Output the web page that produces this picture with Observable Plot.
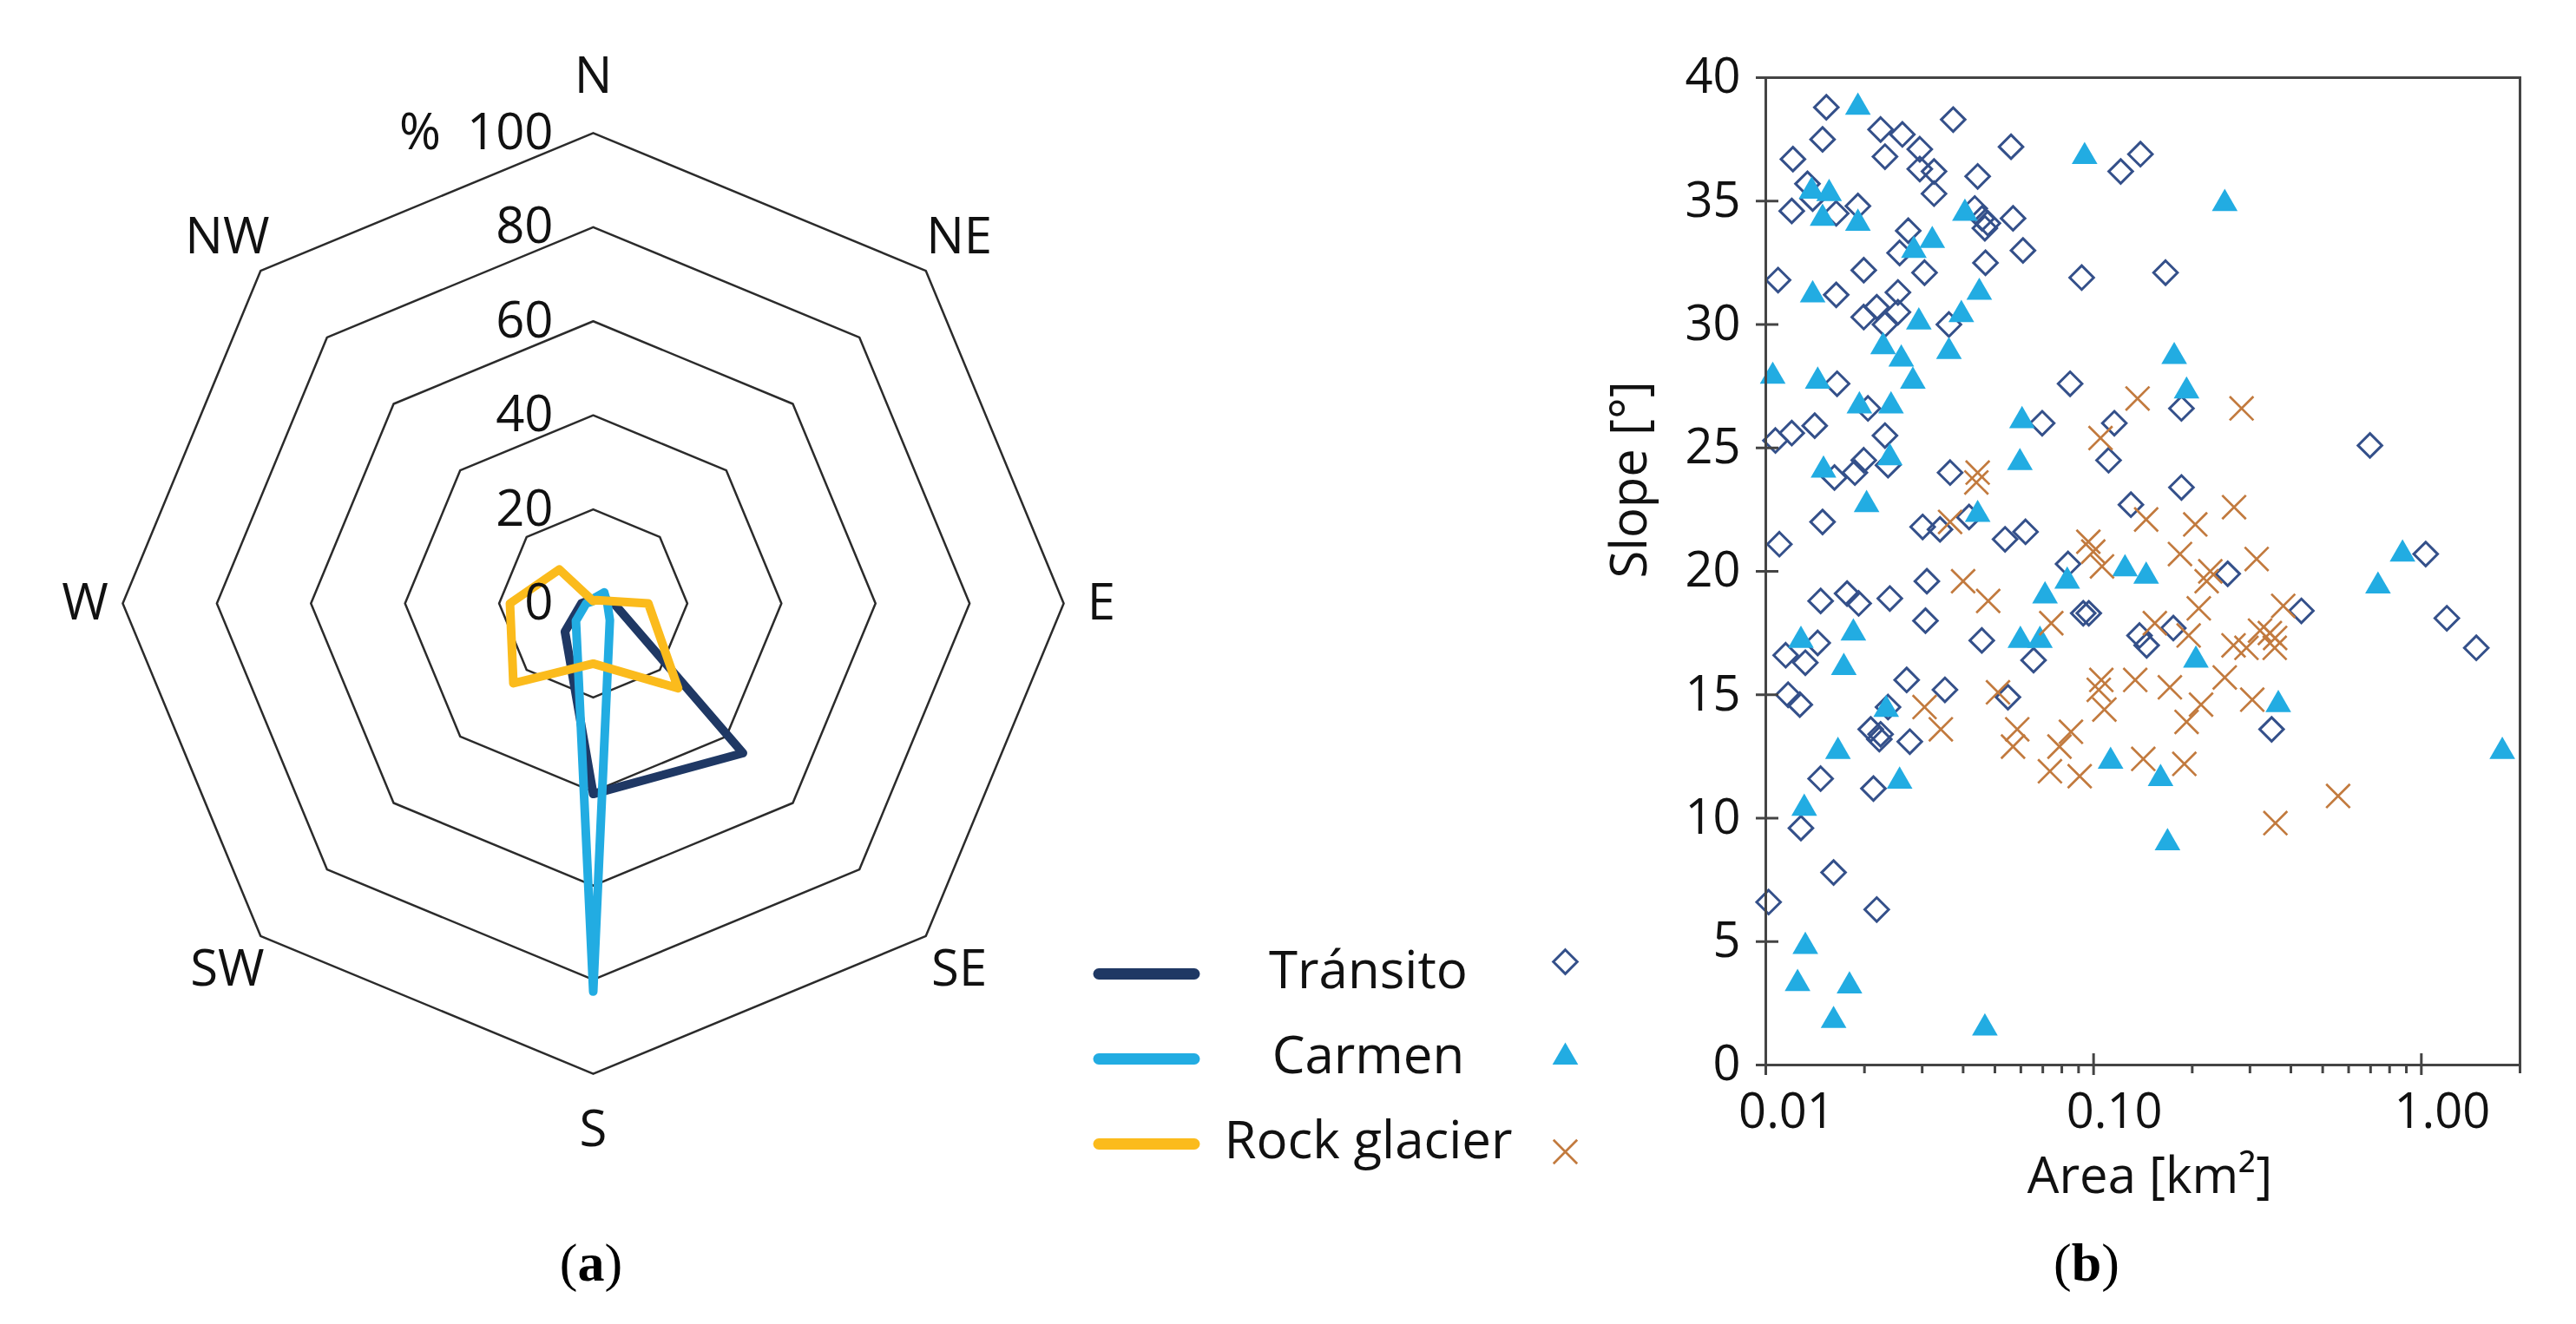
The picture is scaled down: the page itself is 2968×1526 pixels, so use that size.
<!DOCTYPE html>
<html>
<head>
<meta charset="utf-8">
<script src="https://cdn.jsdelivr.net/npm/d3@7"></script>
<script src="https://cdn.jsdelivr.net/npm/@observablehq/plot@0.6"></script>
<style>
html, body { margin: 0; padding: 0; background: #fff; }
#fig { position: relative; width: 2968px; height: 1526px; overflow: hidden; font-family: "Open Sans", sans-serif; background: #fff; }
.cap { position: absolute; top: 1420px; font-family: "Liberation Serif", "Times New Roman", serif; font-size: 62px; color: #000; transform: translateX(-50%); white-space: nowrap; }
</style>
</head>
<body>
<div id="fig"></div>
<script>
// ---------------- DATA ----------------
const seriesNames = ["Tránsito", "Carmen", "Rock glacier"];

// (a) aspect distribution, % per direction
const directions = ["N", "NE", "E", "SE", "S", "SW", "W", "NW"];
const ringTicks = [0, 20, 40, 60, 80, 100];
const transitoAspect = [1, 2, 4.4, 45, 40.5, 8.5, 2.5, 1];
const carmenAspect   = [1, 3.3, 3, 5, 82.5, 5.2, 1.5, 0.5];
const rockAspect     = [0.5, 1, 11.7, 25.5, 12.8, 24, 17.7, 10.2];

// (b) area [km²] vs slope [°]
const transitoArea = [0.0153,0.0149,0.0121,0.0134,0.0139,0.0373,0.0224,0.0261,0.0231,0.0295,0.0560,0.0295,0.0326,0.0443,0.0326,0.0120,0.0164,0.0191,0.0434,0.0457,0.0476,0.0466,0.0568,0.0272,0.0256,0.0305,0.0199,0.0468,0.0609,0.0109,0.0164,0.0253,0.0218,0.0199,0.0231,0.0253,0.0362,0.0165,0.0205,0.0141,0.0120,0.0107,0.0231,0.0236,0.0199,0.0187,0.0162,0.0365,0.0149,0.0110,0.0301,0.0340,0.0417,0.0537,0.0620,0.1210,0.1390,0.0920,0.1658,0.1854,0.0848,0.0697,0.1157,0.1111,0.1854,0.1300,0.0836,0.2566,0.6970,1.031,0.0310,0.0147,0.0177,0.0192,0.0239,0.0307,0.0144,0.0115,0.0132,0.0456,0.0117,0.0127,0.0269,0.0352,0.0236,0.0209,0.0224,0.0222,0.0275,0.0147,0.0213,0.0128,0.0161,0.0102,0.0218,0.0930,0.0967,0.1751,0.1381,0.1452,0.0656,0.0548,0.4305,1.196,1.471,0.3493];
const transitoSlope = [38.8,37.5,36.7,35.7,35.1,38.3,37.9,37.7,36.8,37.1,37.2,36.3,36.2,36.0,35.3,34.6,34.5,34.8,34.7,34.3,34.1,33.9,34.3,33.8,32.9,32.1,32.2,32.5,33.0,31.8,31.2,31.3,30.7,30.3,30.0,30.5,30.0,27.6,26.6,25.9,25.6,25.3,25.5,24.3,24.5,24.0,23.8,24.0,22.0,21.1,21.8,21.7,22.2,21.3,21.6,36.2,36.9,31.9,32.1,26.6,27.6,26.0,26.0,24.5,23.4,22.7,20.3,19.9,25.1,20.7,19.6,18.8,19.1,18.7,18.9,18.0,17.1,16.6,16.3,17.2,15.0,14.6,15.6,15.2,14.5,13.6,13.4,13.2,13.1,11.6,11.2,9.6,7.8,6.6,6.3,18.3,18.3,17.7,17.4,17.0,16.4,14.9,18.4,18.1,16.9,13.6];

const carmenArea = [0.0191,0.0138,0.0156,0.0149,0.0191,0.0405,0.0322,0.0283,0.0139,0.0448,0.0395,0.0293,0.0228,0.0362,0.0259,0.0105,0.0144,0.0281,0.0193,0.0241,0.0239,0.0150,0.0203,0.0443,0.0939,0.2513,0.1762,0.1922,0.0605,0.0596,0.8762,0.0185,0.0128,0.0173,0.0233,0.0166,0.0256,0.0131,0.0132,0.0125,0.0180,0.0161,0.0466,0.0831,0.1247,0.1447,0.0711,0.0598,0.0686,0.2052,0.1127,0.1601,0.1681,0.7374,0.3661,1.766];
const carmenSlope = [38.8,35.4,35.3,34.3,34.1,34.5,33.4,33.0,31.2,31.3,30.4,30.1,29.1,28.9,28.6,27.9,27.7,27.7,26.7,26.7,24.6,24.1,22.7,22.3,36.8,34.9,28.7,27.3,26.1,24.4,20.7,17.5,17.2,16.1,14.4,12.7,11.5,10.4,4.8,3.3,3.2,1.8,1.5,19.6,20.1,19.8,19.0,17.2,17.2,16.4,12.3,11.6,9.0,19.4,14.6,12.7];

const rockArea = [0.0443,0.0439,0.0365,0.1362,0.2828,0.1050,0.1447,0.2043,0.2683,0.0964,0.0998,0.1061,0.1835,0.2271,0.2213,0.3144,0.0400,0.0477,0.0305,0.0342,0.0511,0.0743,0.2094,0.1538,0.1950,0.2673,0.2927,0.2513,0.3049,0.1056,0.1037,0.1079,0.1340,0.1709,0.2128,0.1922,0.0585,0.0568,0.0853,0.0787,0.0736,0.0907,0.1418,0.1892,0.3790,0.322,0.345,0.358,0.357,0.5572,0.3587];
const rockSlope = [24.0,23.6,22.0,27.0,26.6,25.4,22.1,21.9,22.6,21.2,20.8,20.2,20.7,20.0,19.6,20.5,19.6,18.8,14.5,13.6,15.1,17.9,18.5,17.9,17.4,17.0,16.9,15.7,14.8,15.6,15.2,14.4,15.6,15.3,14.6,13.9,13.6,12.9,13.5,12.9,11.9,11.7,12.4,12.2,18.6,17.6,17.5,17.3,16.9,10.9,9.8];

const slopeTicks = [0, 5, 10, 15, 20, 25, 30, 35, 40];
const areaTicks = [0.01, 0.1, 1];
const areaMinorTicks = [0.02,0.03,0.04,0.05,0.06,0.07,0.08,0.09,0.2,0.3,0.4,0.5,0.6,0.7,0.8,0.9,2];
const yTitle = "Slope [°]";
const xTitle = "Area [km²]";

// ---------------- STYLE ----------------
const lineColors = ["#1f3864", "#22ace2", "#fbbb1c"];
const markColors = ["#34508a", "#22ace2", "#c27a3e"];
const font = "'Open Sans', sans-serif";

const fig = document.getElementById("fig");
function place(node, left, top, width) {
  const d = document.createElement("div");
  d.style.cssText = `position:absolute;left:${left}px;top:${top}px;width:${width}px;`;
  d.appendChild(node);
  fig.appendChild(d);
}

// ---------------- (a) RADAR ----------------
const ang = i => i * Math.PI / 4;
const px = (v, i) => v * Math.sin(ang(i));
const py = (v, i) => v * Math.cos(ang(i));
const ringRows = ringTicks.filter(t => t > 0).flatMap(t => directions.map((_, i) => ({t, i})));
const aspects = [transitoAspect, carmenAspect, rockAspect];
const dirRows = directions.map((name, i) => ({name, i}));

const radar = Plot.plot({
  width: 1366, height: 1390, margin: 0,
  x: {domain: [-126, 126], axis: null},
  y: {domain: [-128.2, 128.2], axis: null},
  style: {fontFamily: font, fontSize: "58px", background: "transparent", overflow: "visible", color: "#111"},
  marks: [
    Plot.line(ringRows, {x: d => px(d.t, d.i), y: d => py(d.t, d.i), z: "t", curve: "linear-closed", stroke: "#2b2b2b", strokeWidth: 2.5}),
    ...aspects.map((vals, k) => Plot.line(vals.map((v, i) => ({v, i})), {
      x: d => px(d.v, d.i), y: d => py(d.v, d.i), curve: "linear-closed",
      stroke: lineColors[k], strokeWidth: 10, strokeLinejoin: "round"
    })),
    Plot.text(dirRows.filter(d => d.i % 4 === 0), {x: d => px(112, d.i), y: d => py(112, d.i), text: "name", lineAnchor: "middle", fill: "#111"}),
    Plot.text(dirRows.filter(d => d.i % 4 === 2), {x: d => px(108, d.i), y: d => py(108, d.i), text: "name", lineAnchor: "middle", fill: "#111"}),
    Plot.text(dirRows.filter(d => d.i % 2 === 1), {x: d => px(110, d.i), y: d => py(110, d.i), text: "name", lineAnchor: "middle", fill: "#111"}),
    Plot.text(ringTicks, {x: () => 0, y: d => d, text: d => d === 100 ? "%\u00a0\u00a0100" : String(d), textAnchor: "end", dx: -46, lineAnchor: "middle", fill: "#111"})
  ]
});
place(radar, 0, 0, 1366);

// ---------------- (b) SCATTER ----------------
const toRows = (a, s) => a.map((x, i) => ({area: x, slope: s[i]}));
const scatter = Plot.plot({
  width: 1188, height: 1400,
  marginLeft: 254, marginRight: 65, marginTop: 89, marginBottom: 173,
  x: {type: "log", domain: [0.01, 2]},
  y: {domain: [0, 40]},
  style: {fontFamily: font, fontSize: "56px", background: "transparent", overflow: "visible", color: "#111"},
  marks: [
    Plot.dot(toRows(transitoArea, transitoSlope), {x: "area", y: "slope", symbol: "diamond2", r: 12.4, stroke: markColors[0], strokeWidth: 3, fill: "none"}),
    Plot.dot(toRows(carmenArea, carmenSlope), {x: "area", y: "slope", symbol: "triangle", r: 11, fill: markColors[1], stroke: "none"}),
    Plot.dot(toRows(rockArea, rockSlope), {x: "area", y: "slope", symbol: "times", r: 12.5, stroke: markColors[2], strokeWidth: 2.7}),
    Plot.frame({stroke: "#444", strokeWidth: 3}),
    Plot.axisY(slopeTicks, {tickSize: 26, dx: 15, tickFormat: () => "", label: null, stroke: "#444", strokeWidth: 3}),
    Plot.axisY(slopeTicks, {tickSize: 0, tickPadding: 29, label: null, fill: "#111"}),
    Plot.axisX(areaTicks, {tickSize: 25, dy: -13, tickFormat: () => "", label: null, stroke: "#444", strokeWidth: 3}),
    Plot.axisX(areaMinorTicks, {tickSize: 10, tickFormat: () => "", label: null, stroke: "#444", strokeWidth: 3}),
    Plot.axisX(areaTicks, {tickSize: 0, tickPadding: 33, dx: 24, tickFormat: d3.format(".2f"), label: null, fill: "#111"}),
    Plot.text([yTitle], {frameAnchor: "left", text: d => d, rotate: -90, dx: -156, dy: 8, fontSize: 58, lineAnchor: "middle", fill: "#111"}),
    Plot.text([xTitle], {frameAnchor: "bottom", text: d => d, dx: 8, dy: 129, fontSize: 58, lineAnchor: "middle", fill: "#111"})
  ]
});
place(scatter, 1780, 0, 1188);

// ---------------- LEGEND ----------------
const legend = Plot.plot({
  width: 620, height: 330, margin: 0,
  x: {domain: [0, 620], range: [0, 620], axis: null},
  y: {type: "point", domain: seriesNames, range: [82, 278], padding: 0, axis: null},
  style: {fontFamily: font, fontSize: "60px", background: "transparent", overflow: "visible", color: "#111"},
  marks: [
    ...seriesNames.map((s, k) => Plot.ruleY([s], {y: d => d, x1: () => 26, x2: () => 136, stroke: lineColors[k], strokeWidth: 13, strokeLinecap: "round"})),
    Plot.text(seriesNames, {x: () => 336, y: d => d, text: d => d, lineAnchor: "middle", dy: -3, fill: "#111"}),
    Plot.dot([seriesNames[0]], {x: () => 563, y: d => d, symbol: "diamond2", r: 12.4, stroke: markColors[0], strokeWidth: 3, fill: "none", dy: -14}),
    Plot.dot([seriesNames[1]], {x: () => 563, y: d => d, symbol: "triangle", r: 11, fill: markColors[1], stroke: "none", dy: -2}),
    Plot.dot([seriesNames[2]], {x: () => 563, y: d => d, symbol: "times", r: 12.5, stroke: markColors[2], strokeWidth: 2.7, dy: 9})
  ]
});
place(legend, 1240, 1040, 620);

// ---------------- CAPTIONS ----------------
[["a", 681], ["b", 2404]].forEach(([t, cx]) => {
  const c = document.createElement("div");
  c.className = "cap";
  c.style.left = cx + "px";
  c.innerHTML = `(<b>${t}</b>)`;
  fig.appendChild(c);
});
</script>
</body>
</html>
